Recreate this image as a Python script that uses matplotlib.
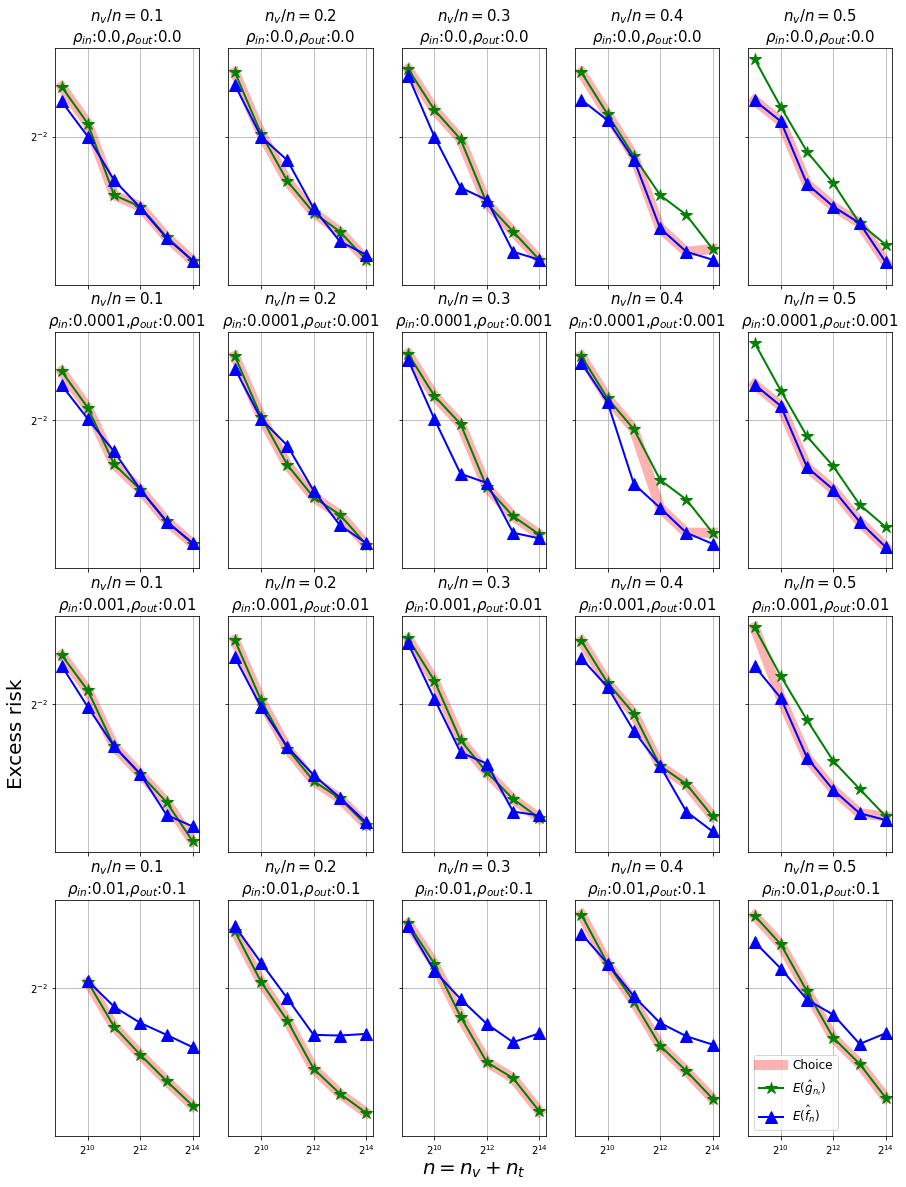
import numpy as np
import matplotlib
matplotlib.use('Agg')
import matplotlib.pyplot as plt

# sample sizes n = n_v + n_t
n_total = [2**9, 2**10, 2**11, 2**12, 2**13, 2**14]

# panel settings
ratios = [0.1, 0.2, 0.3, 0.4, 0.5]
rho_in = ['0.0', '0.0001', '0.001', '0.01']
rho_out = ['0.0', '0.001', '0.01', '0.1']

# E(g_hat) per row (rho) and column (n_v/n)
g_risk = [
    [[0.2976, 0.2615, 0.2039, 0.1959, 0.1762, 0.1622],
     [0.3128, 0.2526, 0.2141, 0.1918, 0.1796, 0.1628],
     [0.3164, 0.2745, 0.2477, 0.1982, 0.1796, 0.1628],
     [0.3128, 0.2701, 0.2335, 0.2039, 0.1903, 0.1690],
     [0.3275, 0.2771, 0.2371, 0.2124, 0.1849, 0.1715]],
    [[0.2966, 0.2612, 0.2146, 0.1964, 0.1760, 0.1626],
     [0.3128, 0.2532, 0.2141, 0.1912, 0.1800, 0.1622],
     [0.3153, 0.2722, 0.2468, 0.1980, 0.1790, 0.1680],
     [0.3128, 0.2698, 0.2424, 0.2032, 0.1897, 0.1690],
     [0.3275, 0.2771, 0.2363, 0.2129, 0.1864, 0.1723]],
    [[0.2966, 0.2621, 0.2158, 0.1959, 0.1776, 0.1549],
     [0.3124, 0.2532, 0.2141, 0.1912, 0.1800, 0.1642],
     [0.3142, 0.2713, 0.2204, 0.1971, 0.1796, 0.1680],
     [0.3117, 0.2692, 0.2418, 0.2016, 0.1892, 0.1690],
     [0.3264, 0.2754, 0.2363, 0.2049, 0.1860, 0.1690]],
    [[None, 0.2552, 0.2184, 0.1980, 0.1807, 0.1657],
     [0.3045, 0.2552, 0.2230, 0.1886, 0.1729, 0.1618],
     [0.3128, 0.2719, 0.2261, 0.1929, 0.1825, 0.1626],
     [0.3226, 0.2719, 0.2382, 0.2044, 0.1871, 0.1699],
     [0.3215, 0.2908, 0.2468, 0.2100, 0.1918, 0.1703]],
]

# E(f_hat)
f_risk = [
    [[0.2826, 0.2500, 0.2148, 0.1952, 0.1756, 0.1622],
     [0.2994, 0.2500, 0.2302, 0.1948, 0.1735, 0.1657],
     [0.3092, 0.2500, 0.2093, 0.2005, 0.1674, 0.1628],
     [0.2842, 0.2646, 0.2308, 0.1817, 0.1674, 0.1628],
     [0.2835, 0.2636, 0.2119, 0.1959, 0.1849, 0.1613]],
    [[0.2826, 0.2512, 0.2243, 0.1964, 0.1756, 0.1630],
     [0.2994, 0.2512, 0.2289, 0.1957, 0.1735, 0.1630],
     [0.3088, 0.2512, 0.2075, 0.2010, 0.1690, 0.1657],
     [0.3056, 0.2661, 0.2003, 0.1843, 0.1690, 0.1626],
     [0.2832, 0.2627, 0.2122, 0.1964, 0.1756, 0.1607]],
    [[0.2858, 0.2474, 0.2158, 0.1959, 0.1699, 0.1632],
     [0.2942, 0.2474, 0.2153, 0.1952, 0.1805, 0.1655],
     [0.3088, 0.2546, 0.2112, 0.2032, 0.1719, 0.1696],
     [0.2932, 0.2652, 0.2276, 0.2016, 0.1719, 0.1604],
     [0.2852, 0.2552, 0.2073, 0.1853, 0.1709, 0.1669]],
    [[None, 0.2561, 0.2341, 0.2212, 0.2122, 0.2032],
     [0.3099, 0.2728, 0.2410, 0.2122, 0.2117, 0.2129],
     [0.3099, 0.2652, 0.2404, 0.2204, 0.2068, 0.2134],
     [0.3018, 0.2719, 0.2427, 0.2212, 0.2112, 0.2051],
     [0.2932, 0.2673, 0.2398, 0.2276, 0.2056, 0.2134]],
]

# which estimator was chosen at each n ('g' or 'f')
choice = [
    ['gggggg', 'gggggg', 'gggggg', 'gggffg', 'ffffff'],
    ['gggggg', 'gggggg', 'gggggg', 'gggffg', 'ffffff'],
    ['gggggg', 'gggggg', 'gggggg', 'gggggg', 'gffffg'],
    ['gggggg', 'gggggg', 'gggggg', 'gggggg', 'gggggg'],
]

plt.rcParams.update({'font.size': 10})

fig, axes = plt.subplots(4, 5, sharex=True, sharey=True,
                         figsize=(906 / 72, 1187 / 72), dpi=72)
fig.subplots_adjust(left=0.0607, right=0.985, top=0.9593, bottom=0.043,
                    wspace=0.2, hspace=0.2)

for i in range(4):
    for j in range(5):
        ax = axes[i, j]
        g = np.array(g_risk[i][j], dtype=float)
        f = np.array(f_risk[i][j], dtype=float)
        c = np.where(np.array(list(choice[i][j])) == 'g', g, f)

        ax.plot(n_total, c, color='red', alpha=0.3, lw=10, label='Choice')
        ax.plot(n_total, g, '-*', color='green', lw=2, markersize=12,
                label=r'$E(\hat{g}_{n_t})$')
        ax.plot(n_total, f, '-^', color='blue', lw=2, markersize=12,
                label=r'$E(\hat{f}_n)$')

        ax.set_xscale('log', base=2)
        ax.set_yscale('log', base=2)
        ax.grid(True)
        ax.set_title(r'$n_v/n={}$'.format(ratios[j]) + '\n'
                     + r'$\rho_{in}$:' + rho_in[i]
                     + r',$\rho_{out}$:' + rho_out[i], fontsize=15)

axes[0, 0].set_xticks([2**10, 2**12, 2**14])
axes[2, 0].set_ylabel('Excess risk', fontsize=20)
axes[3, 2].set_xlabel(r'$n=n_v+n_t$', fontsize=20)
axes[3, 4].legend(loc='lower left', fontsize=12)

fig.savefig('out.png', dpi=72)
